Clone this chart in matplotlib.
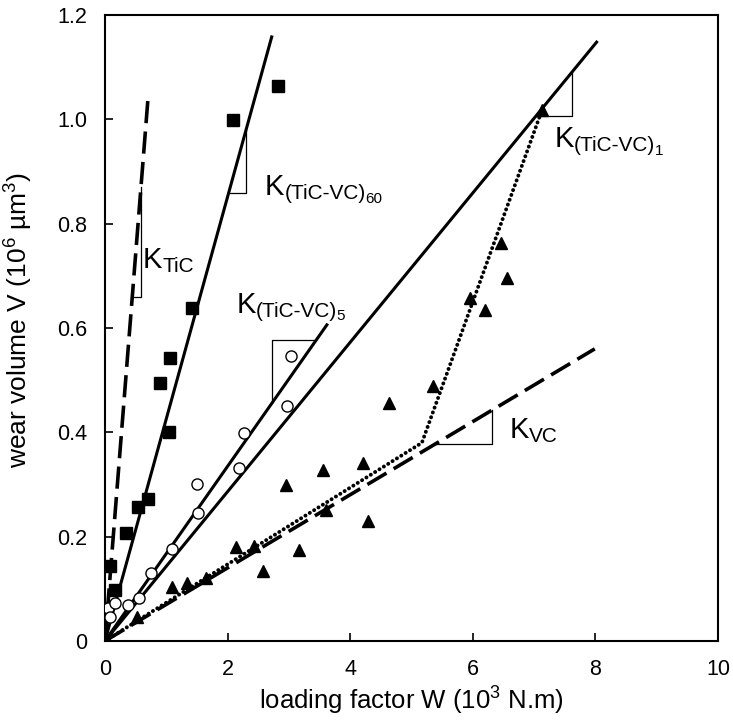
import numpy as np
import matplotlib
matplotlib.use("Agg")
import matplotlib.pyplot as plt

plt.rcParams['font.family'] = ['Liberation Sans', 'DejaVu Sans']
plt.rcParams['lines.scale_dashes'] = False
plt.rcParams['mathtext.fontset'] = 'custom'
plt.rcParams['mathtext.rm'] = 'Liberation Sans'
plt.rcParams['mathtext.default'] = 'regular'

# (TiC-VC)60 samples - squares
sq_w = [0.08, 0.16, 0.34, 0.54, 0.70, 1.04, 0.90, 1.06, 1.42, 2.09, 2.82]
sq_v = [0.144, 0.098, 0.207, 0.257, 0.272, 0.401, 0.495, 0.542, 0.638, 0.999, 1.064]

# (TiC-VC)5 samples - circles
ci_w = [0.05, 0.08, 0.16, 0.38, 0.55, 0.75, 1.09, 1.52, 1.50, 2.19, 2.27, 2.97, 3.03]
ci_v = [0.063, 0.046, 0.073, 0.069, 0.082, 0.130, 0.176, 0.245, 0.301, 0.332, 0.399, 0.450, 0.546]

# VC / (TiC-VC)1 samples - triangles
tr_w = [0.52, 1.09, 1.34, 1.65, 2.14, 2.43, 2.58, 3.16, 2.95, 3.56, 3.61, 4.21, 4.29,
        4.63, 5.35, 5.95, 6.20, 6.56, 6.46, 7.13]
tr_v = [0.046, 0.104, 0.111, 0.121, 0.180, 0.182, 0.134, 0.174, 0.299, 0.328, 0.251, 0.341,
        0.230, 0.456, 0.489, 0.657, 0.634, 0.696, 0.763, 1.018]

# fitted lines: end points (start at origin)
k_tic = (0.70, 1.037)
k_60 = (2.72, 1.158)
k_5 = (3.62, 0.606)
k_1 = (8.02, 1.148)
k_vc = (7.99, 0.560)
# dotted guide through the VC-rich points
dot_w = [0.0, 5.17, 7.13]
dot_v = [0.0, 0.380, 1.018]

fig = plt.figure(figsize=(7.33, 7.22), dpi=100)
ax = fig.add_axes([0.1432, 0.1122, 0.8363, 0.867])

lw = 2.2
ax.plot([0, k_tic[0]], [0, k_tic[1]], color='k', lw=2.6, dashes=(16, 6))
ax.plot([0, k_60[0]], [0, k_60[1]], color='k', lw=lw)
ax.plot([0, k_5[0]], [0, k_5[1]], color='k', lw=lw)
ax.plot([0, k_1[0]], [0, k_1[1]], color='k', lw=lw)
ax.plot([0, k_vc[0]], [0, k_vc[1]], color='k', lw=2.6, dashes=(16, 6))
ax.plot(dot_w, dot_v, color='k', lw=2.8, dashes=(0.1, 3.6), dash_capstyle='round')

ax.plot(sq_w, sq_v, 's', color='k', ms=8.5, ls='none', zorder=5)
ax.plot(ci_w, ci_v, 'o', mfc='white', mec='k', mew=1.0, ms=8, ls='none', zorder=5)
ax.plot(tr_w, tr_v, '^', color='k', ms=9, ls='none', zorder=5)


# slope triangles: horizontal from the line to the corner, then vertical back to the line
def slope_tri(line, corner):
    s = line[1] / line[0]
    xc, yc = corner
    ax.plot([yc / s, xc, xc], [yc, yc, xc * s], color='k', lw=0.9)


slope_tri(k_tic, (0.587, 0.659))
slope_tri(k_60, (2.30, 0.859))
slope_tri(k_5, (2.72, 0.577))
slope_tri(k_1, (7.62, 1.006))
slope_tri(k_vc, (6.31, 0.378))


def klabel(x, y, sub, subsub=None):
    t = ax.text(x, y, 'K', fontsize=21, va='center', ha='left')
    a = ax.annotate(sub, xy=(1, 0), xycoords=t, xytext=(0, -1.5),
                    textcoords='offset points', fontsize=15, va='bottom', ha='left')
    if subsub:
        ax.annotate(subsub, xy=(1, 0), xycoords=a, xytext=(0, -2),
                    textcoords='offset points', fontsize=11, va='bottom', ha='left')


klabel(0.62, 0.73, 'TiC')
klabel(2.61, 0.87, '(TiC-VC)', '60')
klabel(2.14, 0.645, '(TiC-VC)', '5')
klabel(7.33, 0.963, '(TiC-VC)', '1')
klabel(6.60, 0.405, 'VC')

ax.set_xlim(0, 10)
ax.set_ylim(0, 1.2)
ax.set_xticks([0, 2, 4, 6, 8, 10])
ax.set_yticks([0, 0.2, 0.4, 0.6, 0.8, 1.0, 1.2])
ax.set_yticklabels(['0', '0.2', '0.4', '0.6', '0.8', '1.0', '1.2'])
ax.tick_params(direction='in', length=6, width=1.2, labelsize=15.5)
ax.tick_params(axis='x', pad=13)
ax.tick_params(axis='y', pad=13)
for s in ax.spines.values():
    s.set_linewidth(1.5)

ax.set_xlabel('loading factor W (10$^3$ N.m)', fontsize=18.5)
ax.set_ylabel('wear volume V (10$^6$ \u00b5m$^3$)', fontsize=19)
ax.xaxis.set_label_coords(0.5, -0.07)
ax.yaxis.set_label_coords(-0.114, 0.513)

fig.savefig('out.png', dpi=100)
